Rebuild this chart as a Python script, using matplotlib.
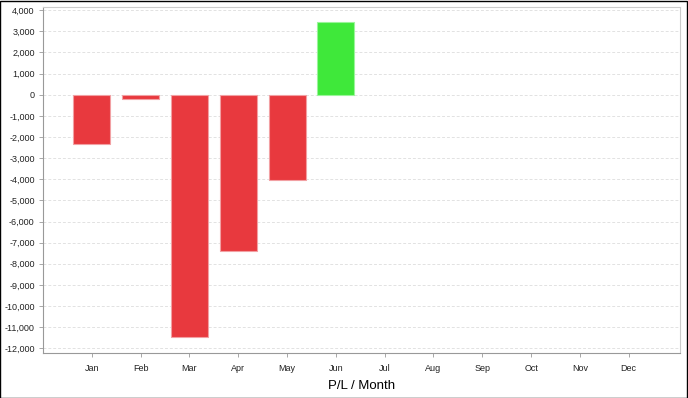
import matplotlib
matplotlib.use("Agg")
import matplotlib.pyplot as plt
from matplotlib.ticker import FuncFormatter

plt.rcParams['font.family'] = ['Liberation Sans', 'DejaVu Sans']

months = ['Jan', 'Feb', 'Mar', 'Apr', 'May', 'Jun', 'Jul', 'Aug', 'Sep', 'Oct', 'Nov', 'Dec']
pnl = [-2350, -220, -11480, -7410, -4040, 3420]

red = '#e8393e'
green = '#3fe83a'

fig = plt.figure(figsize=(6.88, 3.98), dpi=100)
ax = fig.add_axes([43 / 688, 1 - 353 / 398, (680 - 43) / 688, (353 - 7) / 398])

colors = [green if v >= 0 else red for v in pnl]
edges = ['#9af59a' if v >= 0 else '#f2a0a3' for v in pnl]
ax.bar(range(len(pnl)), pnl, width=0.76, color=colors, edgecolor=edges, linewidth=0.8, zorder=3)

ax.set_xlim(-1.0, 12.05)
ax.set_ylim(-12220, 4150)
ax.set_xticks(range(len(months)))
ax.set_xticklabels(months)
ax.set_yticks(range(-12000, 4001, 1000))
ax.yaxis.set_major_formatter(FuncFormatter(lambda v, p: f'{int(v):,}'))

ax.grid(axis='y', linestyle=(0, (3, 2)), color='#e2e2e2', linewidth=0.7, zorder=0)
ax.tick_params(labelsize=6.5, colors='#222222', length=3, width=0.6)
ax.tick_params(axis='x', pad=5, color='#999999')
ax.tick_params(axis='y', color='#999999', pad=3)

for s in ['left', 'bottom']:
    ax.spines[s].set_color('#999999')
for s in ['right', 'top']:
    ax.spines[s].set_color('#cccccc')

ax.set_xlabel('P/L / Month', fontsize=9.5, labelpad=5)

fig.patches.append(plt.Rectangle((0.0007, 0.0012), 0.9979, 0.9968, transform=fig.transFigure,
                                 fill=False, edgecolor='black', linewidth=1.0))

fig.savefig('out.png', dpi=100)
